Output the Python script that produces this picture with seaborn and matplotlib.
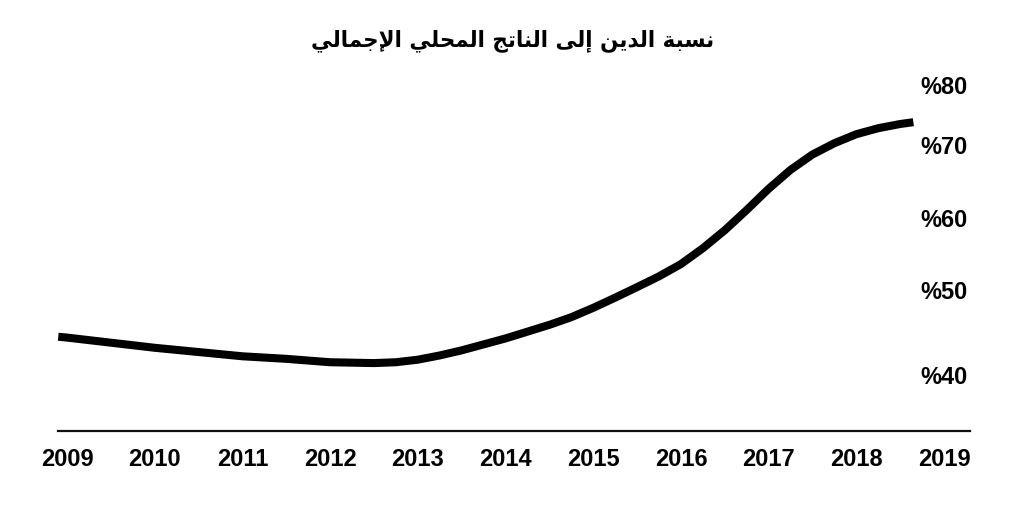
import numpy as np
import pandas as pd
import matplotlib
matplotlib.use("Agg")
import matplotlib.pyplot as plt
import seaborn as sns

# values (debt / GDP, %)
years = [2008.9, 2009, 2009.5, 2010, 2010.5, 2011, 2011.5, 2012, 2012.5, 2012.75,
         2013, 2013.25, 2013.5, 2013.75, 2014, 2014.25, 2014.5, 2014.75, 2015,
         2015.25, 2015.5, 2015.75, 2016, 2016.25, 2016.5, 2016.75, 2017, 2017.25,
         2017.5, 2017.75, 2018, 2018.25, 2018.5, 2018.65]
debt_ratio = [44.5, 44.4, 43.8, 43.2, 42.7, 42.2, 41.9, 41.5, 41.4, 41.5,
              41.8, 42.3, 42.9, 43.6, 44.3, 45.1, 45.9, 46.8, 47.9,
              49.1, 50.4, 51.9, 53.6, 55.8, 58.3, 61.1, 64.0, 66.6,
              68.7, 70.3, 71.8, 72.8, 73.5, 73.8]
year_ticks = [2009, 2010, 2011, 2012, 2013, 2014, 2015, 2016, 2017, 2018, 2019]
pct_ticks = [40, 50, 60, 70, 80]
title = "نسبة الدين إلى الناتج المحلي الإجمالي"

# the original's vertical axis is not evenly spaced: pixel height of each tick
scale_vals = [0, 40, 50, 60, 70, 80, 120]
scale_pix = [715, 375, 290, 218, 145, 85, -155]
neg_pix = [-p for p in scale_pix]


def fwd(v):
    return np.interp(v, scale_vals, neg_pix)


def inv(t):
    return np.interp(t, neg_pix, scale_vals)


# minimal arabic shaping (matplotlib has no complex text layout)
FORMS = {
    "ا": ("\uFE8D", "\uFE8E", None, None),
    "إ": ("\uFE87", "\uFE88", None, None),
    "ب": ("\uFE8F", "\uFE90", "\uFE91", "\uFE92"),
    "ة": ("\uFE93", "\uFE94", None, None),
    "ت": ("\uFE95", "\uFE96", "\uFE97", "\uFE98"),
    "ج": ("\uFE9D", "\uFE9E", "\uFE9F", "\uFEA0"),
    "ح": ("\uFEA1", "\uFEA2", "\uFEA3", "\uFEA4"),
    "د": ("\uFEA9", "\uFEAA", None, None),
    "س": ("\uFEB1", "\uFEB2", "\uFEB3", "\uFEB4"),
    "ل": ("\uFEDD", "\uFEDE", "\uFEDF", "\uFEE0"),
    "م": ("\uFEE1", "\uFEE2", "\uFEE3", "\uFEE4"),
    "ن": ("\uFEE5", "\uFEE6", "\uFEE7", "\uFEE8"),
    "ى": ("\uFEEF", "\uFEF0", None, None),
    "ي": ("\uFEF1", "\uFEF2", "\uFEF3", "\uFEF4"),
    "لا": ("\uFEFB", "\uFEFC", None, None),
    "لإ": ("\uFEF9", "\uFEFA", None, None),
}


def shape(text):
    words = []
    for word in text.split(" "):
        units = []
        i = 0
        while i < len(word):
            if word[i] == "ل" and i + 1 < len(word) and word[i:i + 2] in FORMS:
                units.append(word[i:i + 2])
                i += 2
            else:
                units.append(word[i])
                i += 1
        out = ""
        for k, u in enumerate(units):
            iso, fin, ini, med = FORMS[u]
            prev_joins = k > 0 and FORMS[units[k - 1]][2] is not None
            next_joins = ini is not None and k + 1 < len(units)
            if prev_joins and next_joins:
                out += med
            elif prev_joins:
                out += fin
            elif next_joins:
                out += ini
            else:
                out += iso
        words.append(out)
    return " ".join(words)[::-1]


df = pd.DataFrame({"year": years, "ratio": debt_ratio})

sns.set_theme(style="white")
plt.rcParams["font.family"] = ["Liberation Sans", "DejaVu Sans"]
plt.rcParams["text.color"] = "black"
plt.rcParams["xtick.color"] = "black"
plt.rcParams["ytick.color"] = "black"

fig = plt.figure(figsize=(10.24, 5.16), dpi=100)
ax = fig.add_axes([58 / 1024, 85 / 516, 912 / 1024, 358 / 516])

sns.lineplot(data=df, x="year", y="ratio", ax=ax, color="black",
             linewidth=5.8, solid_capstyle="butt", solid_joinstyle="round")

ax.set_yscale("function", functions=(fwd, inv))
ax.set_xlim(2008.897, 2019.296)
ax.set_ylim(33.41, 82)

ax.set_xticks(year_ticks)
ax.set_xticklabels([str(y) for y in year_ticks], fontsize=17, fontweight="bold")
ax.set_yticks(pct_ticks)
ax.set_yticklabels([f"%{p}" for p in pct_ticks], fontsize=17, fontweight="bold")
ax.yaxis.set_ticks_position("right")
ax.tick_params(axis="y", length=0, pad=-2, labelcolor="black")
for lbl in ax.get_yticklabels():
    lbl.set_horizontalalignment("right")
ax.tick_params(axis="x", length=0, pad=12, labelcolor="black")
ax.minorticks_off()
ax.set_xlabel("")
ax.set_ylabel("")

for side in ["top", "left", "right"]:
    ax.spines[side].set_visible(False)
ax.spines["bottom"].set_color("#111111")
ax.spines["bottom"].set_linewidth(1.6)
ax.grid(False)

fig.text(0.501, 1 - 41 / 516, shape(title), ha="center", va="center",
         fontsize=15.5, fontweight="bold", color="black", family=["DejaVu Sans"])

fig.savefig("out.png", dpi=100, facecolor="white")
